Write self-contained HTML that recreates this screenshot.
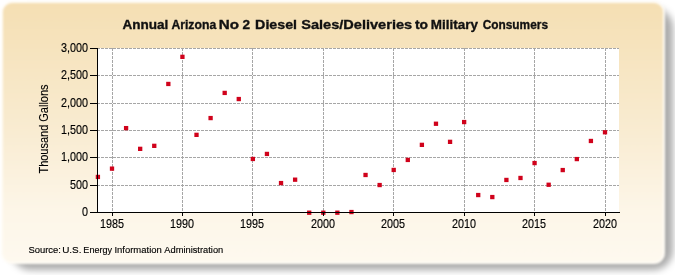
<!DOCTYPE html>
<html><head><meta charset="utf-8"><style>
html,body{margin:0;padding:0;background:#fff;width:675px;height:275px;overflow:hidden}
.shadow{position:absolute;left:11px;top:8px;width:662px;height:261.5px;border-radius:20px;background:rgba(0,0,0,0.33);filter:blur(3.5px)}
.box{position:absolute;left:0.8px;top:0.8px;width:660.5px;height:259.7px;border:2px solid #fffcf6;border-radius:11px;
background:linear-gradient(to bottom,#f5dfb3 0%,#f9ecd2 50%,#fdf6e8 80%,#fef9ef 100%);filter:blur(0.9px)}
svg{position:absolute;left:0;top:0;will-change:transform}
text{font-family:"Liberation Sans",sans-serif;fill:#111}
.m{fill:#d0021b}
.g{stroke:#a6a6a6;stroke-width:1;stroke-dasharray:3,1;shape-rendering:crispEdges}
.ax1{stroke:#000;stroke-width:1;fill:none}
.ax{font-size:12px;fill:#000;stroke:#000;stroke-width:0.15px}
.title{font-size:13px;font-weight:bold;stroke:#111;stroke-width:0.35px}
.src{font-size:9.7px;fill:#000;stroke:#000;stroke-width:0.15px}
.yl{font-size:12px;fill:#000;stroke:#000;stroke-width:0.12px}
</style></head><body>
<div class="shadow"></div><div class="box"></div>
<svg width="675" height="275" viewBox="0 0 675 275">
<rect x="98" y="48" width="521.0" height="164" style="fill:#fff"/>
<line x1="97" x2="619.0" y1="185.5" y2="185.5" class="g"/>
<line x1="97" x2="619.0" y1="157.5" y2="157.5" class="g"/>
<line x1="97" x2="619.0" y1="130.5" y2="130.5" class="g"/>
<line x1="97" x2="619.0" y1="103.5" y2="103.5" class="g"/>
<line x1="97" x2="619.0" y1="75.5" y2="75.5" class="g"/>
<line x1="97" x2="619.0" y1="48.5" y2="48.5" class="g"/>
<line x1="112.5" x2="112.5" y1="48" y2="212" class="g"/>
<line x1="182.5" x2="182.5" y1="48" y2="212" class="g"/>
<line x1="252.5" x2="252.5" y1="48" y2="212" class="g"/>
<line x1="323.5" x2="323.5" y1="48" y2="212" class="g"/>
<line x1="393.5" x2="393.5" y1="48" y2="212" class="g"/>
<line x1="464.5" x2="464.5" y1="48" y2="212" class="g"/>
<line x1="534.5" x2="534.5" y1="48" y2="212" class="g"/>
<line x1="605.5" x2="605.5" y1="48" y2="212" class="g"/>
<rect x="95.76" y="174.79" width="4.3" height="4.3" class="m"/>
<rect x="109.85" y="166.49" width="4.3" height="4.3" class="m"/>
<rect x="123.94" y="125.98" width="4.3" height="4.3" class="m"/>
<rect x="138.02" y="146.70" width="4.3" height="4.3" class="m"/>
<rect x="152.11" y="143.69" width="4.3" height="4.3" class="m"/>
<rect x="166.19" y="81.81" width="4.3" height="4.3" class="m"/>
<rect x="180.28" y="54.69" width="4.3" height="4.3" class="m"/>
<rect x="194.36" y="132.70" width="4.3" height="4.3" class="m"/>
<rect x="208.45" y="115.92" width="4.3" height="4.3" class="m"/>
<rect x="222.54" y="90.77" width="4.3" height="4.3" class="m"/>
<rect x="236.62" y="96.89" width="4.3" height="4.3" class="m"/>
<rect x="250.71" y="156.81" width="4.3" height="4.3" class="m"/>
<rect x="264.79" y="151.78" width="4.3" height="4.3" class="m"/>
<rect x="278.88" y="180.92" width="4.3" height="4.3" class="m"/>
<rect x="292.96" y="177.53" width="4.3" height="4.3" class="m"/>
<rect x="307.05" y="210.55" width="4.3" height="4.3" class="m"/>
<rect x="321.14" y="210.55" width="4.3" height="4.3" class="m"/>
<rect x="335.22" y="210.55" width="4.3" height="4.3" class="m"/>
<rect x="349.31" y="209.89" width="4.3" height="4.3" class="m"/>
<rect x="363.39" y="172.83" width="4.3" height="4.3" class="m"/>
<rect x="377.48" y="182.89" width="4.3" height="4.3" class="m"/>
<rect x="391.56" y="167.80" width="4.3" height="4.3" class="m"/>
<rect x="405.65" y="157.79" width="4.3" height="4.3" class="m"/>
<rect x="419.74" y="142.71" width="4.3" height="4.3" class="m"/>
<rect x="433.82" y="121.60" width="4.3" height="4.3" class="m"/>
<rect x="447.91" y="139.70" width="4.3" height="4.3" class="m"/>
<rect x="461.99" y="119.91" width="4.3" height="4.3" class="m"/>
<rect x="476.08" y="192.89" width="4.3" height="4.3" class="m"/>
<rect x="490.16" y="194.91" width="4.3" height="4.3" class="m"/>
<rect x="504.25" y="177.80" width="4.3" height="4.3" class="m"/>
<rect x="518.34" y="175.83" width="4.3" height="4.3" class="m"/>
<rect x="532.42" y="160.91" width="4.3" height="4.3" class="m"/>
<rect x="546.51" y="182.61" width="4.3" height="4.3" class="m"/>
<rect x="560.59" y="167.91" width="4.3" height="4.3" class="m"/>
<rect x="574.68" y="156.92" width="4.3" height="4.3" class="m"/>
<rect x="588.76" y="138.82" width="4.3" height="4.3" class="m"/>
<rect x="602.85" y="130.13" width="4.3" height="4.3" class="m"/>
<path d="M97.5 48V212.5M97 212.5H620" class="ax1"/>
<path d="M90 212.5H97" class="ax1"/>
<text transform="translate(87.9,215.8) scale(0.9,1)" text-anchor="end" class="ax">0</text>
<path d="M90 185.5H97" class="ax1"/>
<text transform="translate(87.9,188.8) scale(0.9,1)" text-anchor="end" class="ax">500</text>
<path d="M90 157.5H97" class="ax1"/>
<text transform="translate(87.9,160.8) scale(0.9,1)" text-anchor="end" class="ax">1,000</text>
<path d="M90 130.5H97" class="ax1"/>
<text transform="translate(87.9,133.8) scale(0.9,1)" text-anchor="end" class="ax">1,500</text>
<path d="M90 103.5H97" class="ax1"/>
<text transform="translate(87.9,106.8) scale(0.9,1)" text-anchor="end" class="ax">2,000</text>
<path d="M90 75.5H97" class="ax1"/>
<text transform="translate(87.9,78.8) scale(0.9,1)" text-anchor="end" class="ax">2,500</text>
<path d="M90 48.5H97" class="ax1"/>
<text transform="translate(87.9,51.8) scale(0.9,1)" text-anchor="end" class="ax">3,000</text>
<path d="M112.5 212V216" class="ax1"/>
<text transform="translate(112.1,227.8) scale(0.9,1)" text-anchor="middle" class="ax">1985</text>
<path d="M182.5 212V216" class="ax1"/>
<text transform="translate(182.1,227.8) scale(0.9,1)" text-anchor="middle" class="ax">1990</text>
<path d="M252.5 212V216" class="ax1"/>
<text transform="translate(252.1,227.8) scale(0.9,1)" text-anchor="middle" class="ax">1995</text>
<path d="M323.5 212V216" class="ax1"/>
<text transform="translate(323.1,227.8) scale(0.9,1)" text-anchor="middle" class="ax">2000</text>
<path d="M393.5 212V216" class="ax1"/>
<text transform="translate(393.1,227.8) scale(0.9,1)" text-anchor="middle" class="ax">2005</text>
<path d="M464.5 212V216" class="ax1"/>
<text transform="translate(464.1,227.8) scale(0.9,1)" text-anchor="middle" class="ax">2010</text>
<path d="M534.5 212V216" class="ax1"/>
<text transform="translate(534.1,227.8) scale(0.9,1)" text-anchor="middle" class="ax">2015</text>
<path d="M605.5 212V216" class="ax1"/>
<text transform="translate(605.1,227.8) scale(0.9,1)" text-anchor="middle" class="ax">2020</text>
<text transform="translate(122.50,28.6) scale(1.042,1)" class="title">Annual</text>
<text transform="translate(171.40,28.6) scale(0.940,1)" class="title">Arizona</text>
<text transform="translate(218.83,28.6) scale(1.169,1)" class="title">No</text>
<text transform="translate(242.40,28.6) scale(1.043,1)" class="title">2</text>
<text transform="translate(255.11,28.6) scale(1.095,1)" class="title">Diesel</text>
<text transform="translate(301.18,28.6) scale(1.122,1)" class="title">Sales/Deliveries</text>
<text transform="translate(414.90,28.6) scale(1.067,1)" class="title">to</text>
<text transform="translate(430.86,28.6) scale(1.036,1)" class="title">Military</text>
<text transform="translate(482.70,28.6) scale(0.914,1)" class="title">Consumers</text>
<text transform="translate(28.42,253.0) scale(0.975,1)" class="src">Source:</text>
<text transform="translate(62.18,253.0) scale(1.024,1)" class="src">U.S.</text>
<text transform="translate(83.36,253.0) scale(0.937,1)" class="src">Energy</text>
<text transform="translate(114.42,253.0) scale(0.977,1)" class="src">Information</text>
<text transform="translate(164.30,253.0) scale(0.959,1)" class="src">Administration</text>
<text transform="translate(48.2,129.0) rotate(-90) scale(0.915,1)" text-anchor="middle" class="yl">Thousand Gallons</text>
</svg>
</body></html>
